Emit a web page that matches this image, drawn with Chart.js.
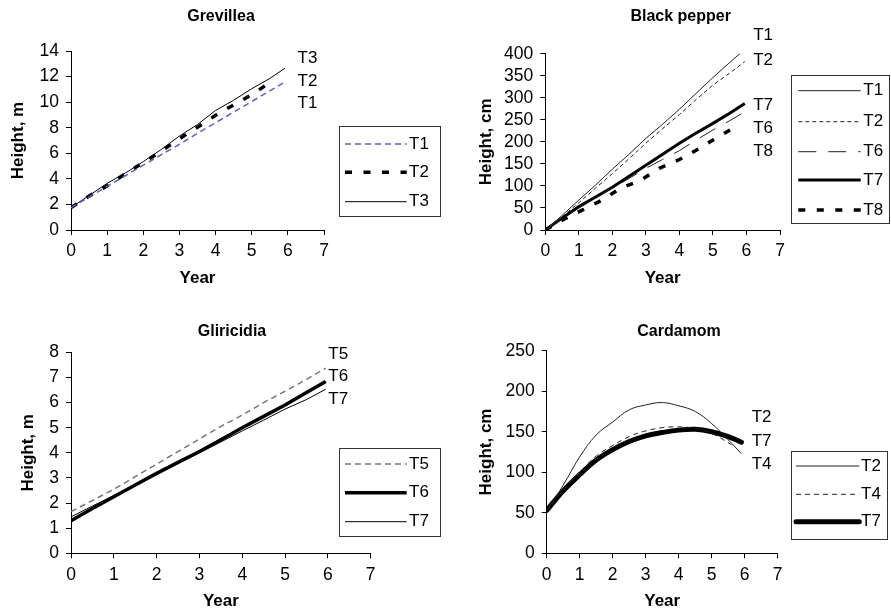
<!DOCTYPE html>
<html>
<head>
<meta charset="utf-8">
<script src="https://cdn.jsdelivr.net/npm/chart.js@4.4.1/dist/chart.umd.min.js"></script>
<style>
  body { margin: 0; background: #fff; }
  #wrap { position: relative; width: 891px; height: 613px; }
  canvas { position: absolute; }
</style>
</head>
<body>
<div id="wrap">
  <canvas id="chartGrevillea" width="445" height="300" style="left:0;top:0"></canvas>
  <canvas id="chartPepper" width="446" height="300" style="left:445px;top:0"></canvas>
  <canvas id="chartGliricidia" width="445" height="313" style="left:0;top:300px"></canvas>
  <canvas id="chartCardamom" width="446" height="313" style="left:445px;top:300px"></canvas>
</div>
<script>
// * #### DATOS: GREVILLEA (m) ####
const grevYears = [0, 0.5, 1, 1.5, 2, 2.5, 3, 3.5, 4, 4.5, 5, 5.5, 5.92];
const grevT1 = [1.75, 2.58, 3.41, 4.24, 5.07, 5.9, 6.7, 7.56, 8.39, 9.22, 10.05, 10.88, 11.58];
const grevT3 = [1.75, 2.7, 3.65, 4.45, 5.35, 6.3, 7.35, 8.25, 9.35, 10.15, 11.05, 11.85, 12.65];
const grevT2Years = [0, 0.5, 1, 1.45, 1.9, 2.35, 2.8, 3.25, 3.7, 4.15, 4.65, 5.15, 5.6];
const grevT2 = [1.75, 2.65, 3.45, 4.3, 5.1, 5.9, 6.75, 7.6, 8.4, 9.25, 10.0, 10.85, 11.75];

// * #### DATOS: BLACK PEPPER (cm) ####
const pepYears = [0, 0.5, 1, 1.5, 2, 2.5, 3, 3.5, 4, 4.5, 5, 5.5, 5.95];
const pepT1 = [0, 33, 68, 102, 138, 172, 208, 240, 274, 310, 346, 380, 410];
const pepT2 = [0, 30, 62, 95, 128, 162, 197, 230, 262, 296, 329, 356, 382];
const pepT6 = [0, 25, 50, 72, 95, 117, 140, 160, 180, 204, 227, 248, 268];
const pepT7 = [0, 27, 53, 75, 97, 122, 147, 172, 197, 220, 242, 265, 287];
const pepT8Years = [0, 0.5, 1.1, 1.7, 2.25, 2.85, 3.4, 4.0, 4.5, 5.0, 5.6];
const pepT8 = [0, 22, 45, 68, 95, 113, 140, 160, 181, 204, 231];

// * #### DATOS: GLIRICIDIA (m) ####
const gliYears = [0, 0.5, 1, 1.5, 2, 2.5, 3, 3.5, 4, 4.5, 5, 5.5, 5.95];
const gliT5 = [1.66, 2.1, 2.55, 3.05, 3.55, 4.05, 4.55, 5.05, 5.5, 6.0, 6.45, 6.92, 7.37];
const gliT6 = [1.3, 1.78, 2.25, 2.72, 3.18, 3.62, 4.05, 4.52, 5.0, 5.45, 5.9, 6.4, 6.84];
const gliT7 = [1.45, 1.88, 2.3, 2.73, 3.15, 3.58, 4.0, 4.43, 4.87, 5.3, 5.74, 6.12, 6.53];

// * #### DATOS: CARDAMOM (cm) ####
const carYears = [0, 0.5, 1, 1.5, 2, 2.5, 3, 3.5, 4, 4.5, 5, 5.5, 5.9];
const carT2 = [52, 84, 119, 146, 162, 177, 183, 186, 182, 175, 160, 140, 123];
const carT4Years = [0, 0.5, 1, 1.5, 2, 2.5, 3, 3.5, 4, 4.5, 5, 5.6];
const carT4 = [52, 78, 100, 120, 133, 144, 151, 155, 156, 154, 148, 134];
const carT7 = [53, 77, 97, 115, 128, 138, 145, 149, 152, 153, 150, 144, 137];

const FONT = '"Liberation Sans", Arial, sans-serif';
Chart.defaults.font.family = FONT;
Chart.defaults.color = "#000";

function pts(xs, ys) {
  return ys.map((y, i) => ({ x: xs[i], y: y }));
}

// titulo, etiquetas al final de las lineas y leyenda con recuadro
const panelDecor = {
  id: "panelDecor",
  afterDraw(chart, args, opts) {
    const ctx = chart.ctx;
    const sx = chart.scales.x;
    const sy = chart.scales.y;
    ctx.save();
    ctx.fillStyle = "#000";
    ctx.textBaseline = "middle";

    ctx.font = "bold 16px " + FONT;
    ctx.textAlign = "center";
    ctx.fillText(opts.title.text, opts.title.x, opts.title.y);

    ctx.font = "17px " + FONT;
    ctx.textAlign = "left";
    opts.endLabels.forEach((l) => {
      ctx.fillText(l.text, sx.getPixelForValue(l.x), sy.getPixelForValue(l.y));
    });

    const lg = opts.legend;
    ctx.strokeStyle = "#333";
    ctx.lineWidth = 1;
    ctx.setLineDash([]);
    ctx.strokeRect(lg.box[0] + 0.5, lg.box[1] + 0.5, lg.box[2], lg.box[3]);
    chart.data.datasets.forEach((ds, i) => {
      const y = lg.rows[i];
      ctx.save();
      ctx.strokeStyle = ds.borderColor;
      ctx.lineWidth = ds.borderWidth;
      ctx.setLineDash(ds.borderDash || []);
      ctx.lineCap = ds.borderCapStyle || "butt";
      ctx.beginPath();
      ctx.moveTo(lg.line[0], y);
      ctx.lineTo(lg.line[1], y);
      ctx.stroke();
      ctx.restore();
      ctx.fillText(ds.label, lg.textX, y);
    });
    ctx.restore();
  },
};

function axes(yMax, yStep, yTitle, yWidth, yTitlePad, xHeight, xTitlePad) {
  return {
    x: {
      type: "linear",
      min: 0,
      max: 7,
      ticks: { stepSize: 1, autoSkip: false, padding: 6, font: { size: 17.5 } },
      grid: { drawOnChartArea: false, tickLength: 5, color: "#000" },
      border: { color: "#000" },
      title: { display: true, text: "Year", font: { size: 17, weight: "bold" }, padding: { top: 0, bottom: xTitlePad } },
      afterFit: (s) => { s.height = xHeight; },
    },
    y: {
      min: 0,
      max: yMax,
      ticks: { stepSize: yStep, autoSkip: false, padding: 7, font: { size: 17.5 } },
      grid: { drawOnChartArea: false, tickLength: 5, color: "#000" },
      border: { color: "#000" },
      title: { display: true, text: yTitle, font: { size: 17, weight: "bold" }, padding: { top: yTitlePad, bottom: 0 } },
      afterFit: (s) => { s.width = yWidth; },
    },
  };
}

function line(label, data, width, dash, color, extra) {
  return Object.assign({
    label: label,
    data: data,
    borderColor: color || "#000",
    borderWidth: width,
    borderDash: dash,
    pointRadius: 0,
    fill: false,
    tension: 0,
  }, extra || {});
}

const common = {
  responsive: false,
  animation: false,
  events: [],
};

// * #### GREVILLEA ####
new Chart(document.getElementById("chartGrevillea"), {
  type: "line",
  data: {
    datasets: [
      line("T1", pts(grevYears, grevT1), 1.5, [6, 4], "#5e5ec4"),
      line("T2", pts(grevT2Years, grevT2), 3.5, [7, 11.5]),
      line("T3", pts(grevYears, grevT3), 1, []),
    ],
  },
  options: Object.assign({}, common, {
    layout: { padding: { top: 51, right: 121, bottom: 0, left: 0 } },
    scales: axes(14, 2, "Height, m", 71, 8.1, 70, 11.5),
    plugins: {
      legend: { display: false },
      tooltip: { enabled: false },
      panelDecor: {
        title: { text: "Grevillea", x: 221, y: 17 },
        endLabels: [
          { text: "T3", x: 6.27, y: 13.42 },
          { text: "T2", x: 6.27, y: 11.65 },
          { text: "T1", x: 6.27, y: 9.9 },
        ],
        legend: { box: [339, 126, 101, 90], rows: [144, 172.3, 201.7], line: [345, 406.7], textX: 409 },
      },
    },
  }),
  plugins: [panelDecor],
});

// * #### BLACK PEPPER ####
new Chart(document.getElementById("chartPepper"), {
  type: "line",
  data: {
    datasets: [
      line("T1", pts(pepYears, pepT1), 1, [], "#222"),
      line("T2", pts(pepYears, pepT2), 1, [4, 3], "#222"),
      line("T6", pts(pepYears, pepT6), 1, [18, 12], "#222"),
      line("T7", pts(pepYears, pepT7), 3, []),
      line("T8", pts(pepT8Years, pepT8), 3.5, [7, 11.5]),
    ],
  },
  options: Object.assign({}, common, {
    layout: { padding: { top: 53.7, right: 111, bottom: 0, left: 0 } },
    scales: axes(400, 50, "Height, cm", 100.3, 30.8, 70, 11.8),
    plugins: {
      legend: { display: false },
      tooltip: { enabled: false },
      panelDecor: {
        title: { text: "Black pepper", x: 235.7, y: 17 },
        endLabels: [
          { text: "T1", x: 6.2, y: 441 },
          { text: "T2", x: 6.2, y: 386 },
          { text: "T7", x: 6.2, y: 282 },
          { text: "T6", x: 6.2, y: 231 },
          { text: "T8", x: 6.2, y: 178 },
        ],
        legend: { box: [346, 75, 98, 148], rows: [90.7, 121.7, 151.7, 180, 210], line: [353.3, 415.7], textX: 418.3 },
      },
    },
  }),
  plugins: [panelDecor],
});

// * #### GLIRICIDIA ####
new Chart(document.getElementById("chartGliricidia"), {
  type: "line",
  data: {
    datasets: [
      line("T5", pts(gliYears, gliT5), 1.5, [6, 4], "#777"),
      line("T6", pts(gliYears, gliT6), 3.5, []),
      line("T7", pts(gliYears, gliT7), 1, []),
    ],
  },
  options: Object.assign({}, common, {
    layout: { padding: { top: 52.3, right: 74.3, bottom: 0, left: 0 } },
    scales: axes(8, 1, "Height, m", 71, 18.1, 59.7, 1.1),
    plugins: {
      legend: { display: false },
      tooltip: { enabled: false },
      panelDecor: {
        title: { text: "Gliricidia", x: 232, y: 31.7 },
        endLabels: [
          { text: "T5", x: 6.01, y: 7.92 },
          { text: "T6", x: 6.01, y: 7.06 },
          { text: "T7", x: 6.01, y: 6.14 },
        ],
        legend: { box: [339, 148, 101, 88], rows: [164, 192.7, 221.7], line: [345, 406.7], textX: 409 },
      },
    },
  }),
  plugins: [panelDecor],
});

// * #### CARDAMOM ####
new Chart(document.getElementById("chartCardamom"), {
  type: "line",
  data: {
    datasets: [
      line("T2", pts(carYears, carT2), 1, [], "#222", { tension: 0.4 }),
      line("T4", pts(carT4Years, carT4), 1, [5, 4], "#222", { tension: 0.4 }),
      line("T7", pts(carYears, carT7), 5, [], "#000", { tension: 0.4, borderCapStyle: "round" }),
    ],
  },
  options: Object.assign({}, common, {
    layout: { padding: { top: 50.7, right: 113.3, bottom: 0, left: 0 } },
    scales: axes(250, 50, "Height, cm", 101.7, 30.8, 59.7, 1.1),
    plugins: {
      legend: { display: false },
      tooltip: { enabled: false },
      panelDecor: {
        title: { text: "Cardamom", x: 234, y: 31.7 },
        endLabels: [
          { text: "T2", x: 6.21, y: 167.8 },
          { text: "T7", x: 6.21, y: 137.7 },
          { text: "T4", x: 6.21, y: 110.2 },
        ],
        legend: { box: [346, 151, 96, 88], rows: [166, 194.3, 221.7], line: [351, 414.3], textX: 416 },
      },
    },
  }),
  plugins: [panelDecor],
});
</script>
</body>
</html>
